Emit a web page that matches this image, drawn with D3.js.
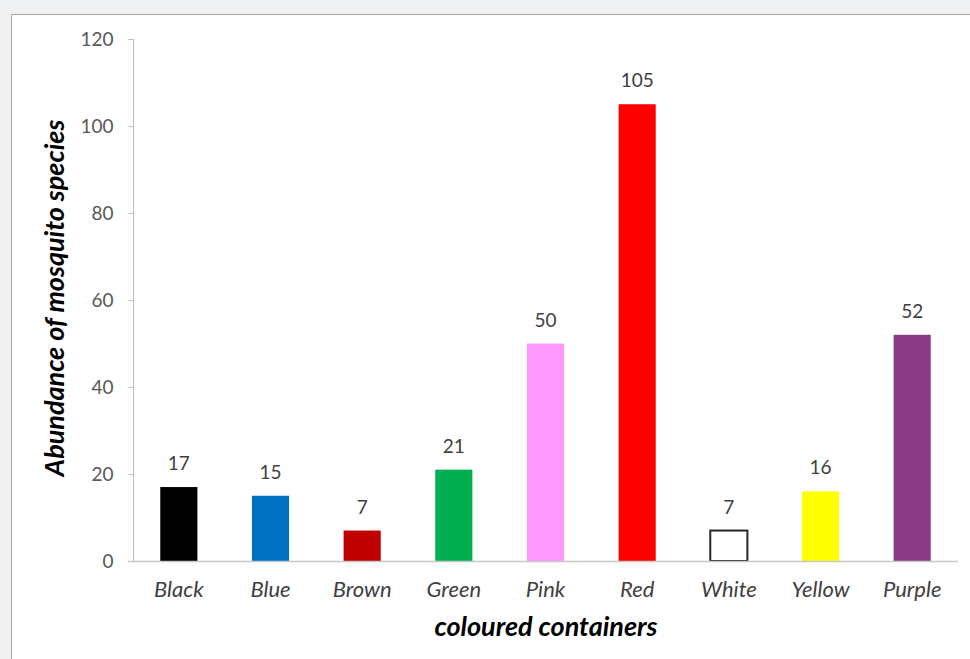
<!DOCTYPE html>
<html><head><meta charset="utf-8">
<script src="https://cdn.jsdelivr.net/npm/d3@7"></script>
<style>
html,body{margin:0;padding:0;background:#f0f1f3;}
svg{display:block;}
</style></head>
<body>
<svg id="c" width="970" height="659"></svg>
<script>
const categories = ["Black","Blue","Brown","Green","Pink","Red","White","Yellow","Purple"];
const values = [17,15,7,21,50,105,7,16,52];
const barColors = ["#000000","#0070c0","#c00000","#00b050","#ff99ff","#ff0000","#ffffff","#ffff00","#893b86"];
const yTicks = [0,20,40,60,80,100,120];
const xTitle = "coloured containers";
const yTitle = "Abundance of mosquito species";

const svg = d3.select("#c");
svg.append("rect").attr("x",11.5).attr("y",14.5).attr("width",970).attr("height",700)
  .attr("fill","#fff").attr("stroke","#a8a8a8").attr("stroke-width",1);

const x = d3.scaleBand().domain(categories).range([133,958]).paddingInner(0.595).paddingOuter(0.2975);
const y = d3.scaleLinear().domain([0,120]).range([561,39]);
const font = "Lato, sans-serif";

// y axis
const ya = svg.append("g").attr("transform","translate(133.5,0)")
  .call(d3.axisLeft(y).tickValues(yTicks).tickSize(5).tickPadding(15));
ya.select(".domain").attr("stroke","#bfbfbf").attr("d","M-5,39.5H0V561.5");
ya.selectAll(".tick line").attr("stroke","#bfbfbf");
ya.selectAll(".tick text").attr("fill","#595959").attr("dy","0.33em").style("font-family",font).style("font-size","19px");

// bars
svg.selectAll(".bar").data(values).enter().append("rect")
  .attr("x",(d,i)=>x(categories[i]))
  .attr("y",d=>y(d))
  .attr("width",x.bandwidth())
  .attr("height",d=>y(0)-y(d))
  .attr("fill",(d,i)=>barColors[i])
  .attr("stroke",(d,i)=>categories[i]==="White"?"#262626":"none")
  .attr("stroke-width",2);

// x axis line
svg.append("line").attr("x1",128).attr("x2",958).attr("y1",561.5).attr("y2",561.5)
  .attr("stroke","#c8c8c8").attr("stroke-width",1.5);

// value labels
svg.selectAll(".vl").data(values).enter().append("text")
  .attr("x",(d,i)=>x(categories[i])+x.bandwidth()/2)
  .attr("y",d=>y(d)-17)
  .attr("text-anchor","middle").attr("fill","#404040")
  .style("font-family",font).style("font-size","19px").text(d=>d);

// category labels
svg.selectAll(".cl").data(categories).enter().append("text")
  .attr("x",d=>x(d)+x.bandwidth()/2).attr("y",597)
  .attr("text-anchor","middle").attr("fill","#404040")
  .style("font-family",font).style("font-size","22px").style("font-style","italic").text(d=>d);

// axis titles
svg.append("text").attr("x",546).attr("y",636).attr("text-anchor","middle")
  .attr("fill","#000").style("font-family",font).style("font-size","27px")
  .style("font-style","italic").style("font-weight","bold").text(xTitle);
svg.append("text").attr("transform","translate(64,298) rotate(-90)").attr("text-anchor","middle")
  .attr("fill","#000").style("font-family",font).style("font-size","27px")
  .style("font-style","italic").style("font-weight","bold").text(yTitle);
</script>
</body></html>
